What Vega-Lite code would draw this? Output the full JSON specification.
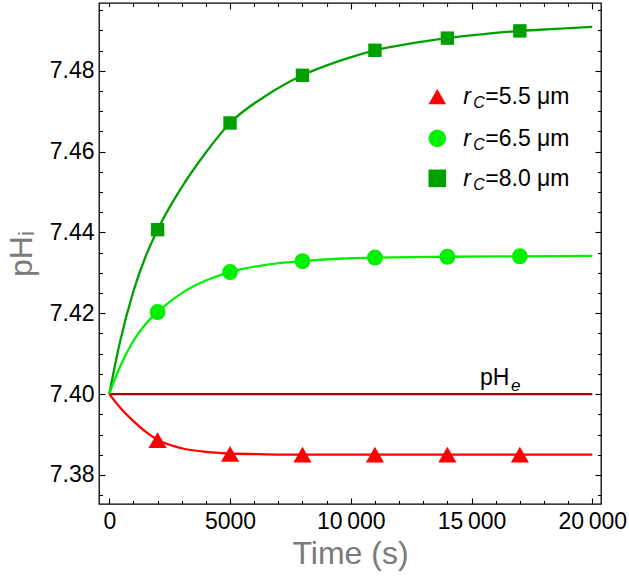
{
  "$schema": "https://vega.github.io/schema/vega-lite/v6.json",
  "width": 502,
  "height": 501,
  "autosize": {"type": "none"},
  "padding": {"left": 99, "top": 3, "right": 28, "bottom": 72},
  "config": {
    "view": {"stroke": "#000000", "strokeWidth": 1.3},
    "font": "Liberation Sans",
    "axis": {
      "domain": false, "grid": false, "tickColor": "#000000", "tickWidth": 1.1,
      "labelFont": "Liberation Sans", "labelFontSize": 23, "labelColor": "#000000",
      "titleFont": "Liberation Sans", "titleFontSize": 32, "titleColor": "#7a7a7a", "titleFontWeight": "normal",
      "labelFlush": false, "labelOverlap": false, "labelBound": false
    }
  },
  "datasets": {
    "curves": [
      {"series": "8.0", "t": 0, "pH": 7.4000}, {"series": "8.0", "t": 400, "pH": 7.4118}, {"series": "8.0", "t": 1000, "pH": 7.4255},
      {"series": "8.0", "t": 1500, "pH": 7.4340}, {"series": "8.0", "t": 2000, "pH": 7.4407}, {"series": "8.0", "t": 3000, "pH": 7.4512},
      {"series": "8.0", "t": 4000, "pH": 7.4598}, {"series": "8.0", "t": 5000, "pH": 7.4671}, {"series": "8.0", "t": 6500, "pH": 7.4739},
      {"series": "8.0", "t": 8000, "pH": 7.4789}, {"series": "8.0", "t": 9500, "pH": 7.4824}, {"series": "8.0", "t": 11000, "pH": 7.4851},
      {"series": "8.0", "t": 12500, "pH": 7.4868}, {"series": "8.0", "t": 14000, "pH": 7.4881}, {"series": "8.0", "t": 15500, "pH": 7.4891},
      {"series": "8.0", "t": 17000, "pH": 7.4899}, {"series": "8.0", "t": 18500, "pH": 7.4904}, {"series": "8.0", "t": 20000, "pH": 7.4909},
      {"series": "6.5", "t": 0, "pH": 7.4000}, {"series": "6.5", "t": 250, "pH": 7.4040}, {"series": "6.5", "t": 500, "pH": 7.4075},
      {"series": "6.5", "t": 1000, "pH": 7.4132}, {"series": "6.5", "t": 1500, "pH": 7.4173}, {"series": "6.5", "t": 2000, "pH": 7.4203},
      {"series": "6.5", "t": 3000, "pH": 7.4250}, {"series": "6.5", "t": 4000, "pH": 7.4281}, {"series": "6.5", "t": 5000, "pH": 7.4302},
      {"series": "6.5", "t": 6500, "pH": 7.4320}, {"series": "6.5", "t": 8000, "pH": 7.4329}, {"series": "6.5", "t": 9500, "pH": 7.4335},
      {"series": "6.5", "t": 11000, "pH": 7.4338}, {"series": "6.5", "t": 14000, "pH": 7.4340}, {"series": "6.5", "t": 17000, "pH": 7.4341},
      {"series": "6.5", "t": 20000, "pH": 7.4342},
      {"series": "5.5", "t": 0, "pH": 7.4000}, {"series": "5.5", "t": 250, "pH": 7.3981}, {"series": "5.5", "t": 500, "pH": 7.3963},
      {"series": "5.5", "t": 1000, "pH": 7.3933}, {"series": "5.5", "t": 1500, "pH": 7.3907}, {"series": "5.5", "t": 2000, "pH": 7.3887},
      {"series": "5.5", "t": 3000, "pH": 7.3866}, {"series": "5.5", "t": 4000, "pH": 7.3857}, {"series": "5.5", "t": 5000, "pH": 7.3853},
      {"series": "5.5", "t": 6500, "pH": 7.3851}, {"series": "5.5", "t": 8000, "pH": 7.3850}, {"series": "5.5", "t": 11000, "pH": 7.3850},
      {"series": "5.5", "t": 20000, "pH": 7.3850}
    ],
    "markers": [
      {"series": "8.0", "t": 2000, "pH": 7.4407}, {"series": "8.0", "t": 5000, "pH": 7.4671}, {"series": "8.0", "t": 8000, "pH": 7.4789},
      {"series": "8.0", "t": 11000, "pH": 7.4851}, {"series": "8.0", "t": 14000, "pH": 7.4881}, {"series": "8.0", "t": 17000, "pH": 7.4899},
      {"series": "6.5", "t": 2000, "pH": 7.4203}, {"series": "6.5", "t": 5000, "pH": 7.4302}, {"series": "6.5", "t": 8000, "pH": 7.4329},
      {"series": "6.5", "t": 11000, "pH": 7.4338}, {"series": "6.5", "t": 14000, "pH": 7.4340}, {"series": "6.5", "t": 17000, "pH": 7.4341},
      {"series": "5.5", "t": 2000, "pH": 7.3886}, {"series": "5.5", "t": 5000, "pH": 7.3852}, {"series": "5.5", "t": 8000, "pH": 7.3850},
      {"series": "5.5", "t": 11000, "pH": 7.3850}, {"series": "5.5", "t": 14000, "pH": 7.3850}, {"series": "5.5", "t": 17000, "pH": 7.3850}
    ],
    "phe": [{"t": 0, "pH": 7.40}, {"t": 20000, "pH": 7.40}],
    "legend": [
      {"series": "5.5", "ly": 7.4736, "label": "=5.5 μm"},
      {"series": "6.5", "ly": 7.4633, "label": "=6.5 μm"},
      {"series": "8.0", "ly": 7.4534, "label": "=8.0 μm"}
    ]
  },
  "layer": [
    {
      "data": {"name": "phe"},
      "mark": {"type": "line", "color": "#aa0000", "strokeWidth": 2.3},
      "encoding": {
        "x": {"field": "t", "type": "quantitative", "scale": {"domain": [-426, 20360], "nice": false, "zero": false},
              "axis": {"orient": "top", "values": [0,1000,2000,3000,4000,6000,7000,8000,9000,11000,12000,13000,14000,16000,17000,18000,19000], "tickSize": -3.5, "labels": false, "title": null}},
        "y": {"field": "pH", "type": "quantitative", "scale": {"domain": [7.3728, 7.4968], "nice": false, "zero": false},
              "axis": {"orient": "right", "values": [7.375,7.385,7.39,7.395,7.405,7.41,7.415,7.425,7.43,7.435,7.445,7.45,7.455,7.465,7.47,7.475,7.485,7.49,7.495], "tickSize": -3.5, "labels": false, "title": null}}
      }
    },
    {
      "data": {"name": "curves"},
      "transform": [{"filter": "datum.series == '8.0'"}],
      "mark": {"type": "line", "strokeWidth": 2.3, "interpolate": "monotone"},
      "encoding": {
        "x": {"field": "t", "type": "quantitative", "scale": {"domain": [-426, 20360], "nice": false, "zero": false},
              "axis": {"orient": "bottom", "values": [0,5000,10000,15000,20000], "tickSize": -6, "labelPadding": 12, "title": "Time (s)", "titlePadding": 5,
                       "labelExpr": "datum.value >= 10000 ? replace(format(datum.value, ','), ',', '\u2009') : format(datum.value, 'd')"}},
        "y": {"field": "pH", "type": "quantitative", "scale": {"domain": [7.3728, 7.4968], "nice": false, "zero": false},
              "axis": {"orient": "left", "values": [7.38,7.40,7.42,7.44,7.46,7.48], "format": ".2f", "tickSize": -6, "labelPadding": 11, "title": "pHᵢ", "titlePadding": 11}},
        "color": {"field": "series", "type": "nominal", "scale": {"domain": ["5.5","6.5","8.0"], "range": ["#ff0000","#00f000","#00a000"]}, "legend": null}
      }
    },
    {
      "data": {"name": "curves"},
      "transform": [{"filter": "datum.series == '6.5'"}],
      "mark": {"type": "line", "strokeWidth": 2.3, "interpolate": "monotone"},
      "encoding": {
        "x": {"field": "t", "type": "quantitative", "scale": {"domain": [-426, 20360], "nice": false, "zero": false},
              "axis": {"orient": "top", "values": [5000,10000,15000,20000], "tickSize": -6, "labels": false, "title": null}},
        "y": {"field": "pH", "type": "quantitative", "scale": {"domain": [7.3728, 7.4968], "nice": false, "zero": false},
              "axis": {"orient": "right", "values": [7.38,7.40,7.42,7.44,7.46,7.48], "tickSize": -6, "labels": false, "title": null}},
        "color": {"field": "series", "type": "nominal", "legend": null}
      }
    },
    {
      "data": {"name": "curves"},
      "transform": [{"filter": "datum.series == '5.5'"}],
      "mark": {"type": "line", "strokeWidth": 2.3, "interpolate": "monotone"},
      "encoding": {
        "x": {"field": "t", "type": "quantitative", "scale": {"domain": [-426, 20360], "nice": false, "zero": false},
              "axis": {"orient": "bottom", "values": [1000,2000,3000,4000,6000,7000,8000,9000,11000,12000,13000,14000,16000,17000,18000,19000], "tickSize": -3.5, "labels": false, "title": null}},
        "y": {"field": "pH", "type": "quantitative", "scale": {"domain": [7.3728, 7.4968], "nice": false, "zero": false},
              "axis": {"orient": "left", "values": [7.375,7.385,7.39,7.395,7.405,7.41,7.415,7.425,7.43,7.435,7.445,7.45,7.455,7.465,7.47,7.475,7.485,7.49,7.495], "tickSize": -3.5, "labels": false, "title": null}},
        "color": {"field": "series", "type": "nominal", "legend": null}
      }
    },
    {
      "data": {"name": "markers"},
      "mark": {"type": "point", "filled": true, "opacity": 1},
      "encoding": {
        "x": {"field": "t", "type": "quantitative", "axis": null},
        "y": {"field": "pH", "type": "quantitative", "axis": null},
        "color": {"field": "series", "type": "nominal", "legend": null},
        "shape": {"field": "series", "type": "nominal", "scale": {"domain": ["5.5","6.5","8.0"], "range": ["triangle-up","circle","square"]}, "legend": null},
        "size": {"field": "series", "type": "nominal", "scale": {"domain": ["5.5","6.5","8.0"], "range": [330,180,200]}, "legend": null}
      }
    },
    {
      "data": {"name": "legend"},
      "mark": {"type": "point", "filled": true, "opacity": 1, "size": 310},
      "encoding": {
        "x": {"datum": 13582, "type": "quantitative", "axis": null},
        "y": {"field": "ly", "type": "quantitative", "axis": null},
        "color": {"field": "series", "type": "nominal", "legend": null},
        "shape": {"field": "series", "type": "nominal", "legend": null}
      }
    },
    {
      "data": {"name": "legend"},
      "mark": {"type": "text", "align": "left", "baseline": "alphabetic", "fontSize": 23, "fontStyle": "italic", "dy": 7.6, "font": "Liberation Sans", "color": "#000000"},
      "encoding": {
        "x": {"datum": 14658, "type": "quantitative", "axis": null},
        "y": {"field": "ly", "type": "quantitative", "axis": null},
        "text": {"value": "r"}
      }
    },
    {
      "data": {"name": "legend"},
      "mark": {"type": "text", "align": "left", "baseline": "alphabetic", "fontSize": 16, "fontStyle": "italic", "dx": 10, "dy": 11.5, "font": "Liberation Sans", "color": "#000000"},
      "encoding": {
        "x": {"datum": 14658, "type": "quantitative", "axis": null},
        "y": {"field": "ly", "type": "quantitative", "axis": null},
        "text": {"value": "C"}
      }
    },
    {
      "data": {"name": "legend"},
      "mark": {"type": "text", "align": "left", "baseline": "alphabetic", "fontSize": 23, "dx": 22, "dy": 7.6, "font": "Liberation Sans", "color": "#000000"},
      "encoding": {
        "x": {"datum": 14658, "type": "quantitative", "axis": null},
        "y": {"field": "ly", "type": "quantitative", "axis": null},
        "text": {"field": "label"}
      }
    },
    {
      "data": {"values": [{"t": 15350, "pH": 7.40, "label": "pH"}]},
      "mark": {"type": "text", "align": "left", "baseline": "alphabetic", "fontSize": 23, "dy": -9, "font": "Liberation Sans", "color": "#000000"},
      "encoding": {
        "x": {"field": "t", "type": "quantitative", "axis": null},
        "y": {"field": "pH", "type": "quantitative", "axis": null},
        "text": {"field": "label"}
      }
    },
    {
      "data": {"values": [{"t": 15350, "pH": 7.40, "label": "e"}]},
      "mark": {"type": "text", "align": "left", "baseline": "alphabetic", "fontSize": 17, "fontStyle": "italic", "dx": 31, "dy": -3, "font": "Liberation Sans", "color": "#000000"},
      "encoding": {
        "x": {"field": "t", "type": "quantitative", "axis": null},
        "y": {"field": "pH", "type": "quantitative", "axis": null},
        "text": {"field": "label"}
      }
    }
  ],
  "resolve": {"axis": {"x": "independent", "y": "independent"}}
}
